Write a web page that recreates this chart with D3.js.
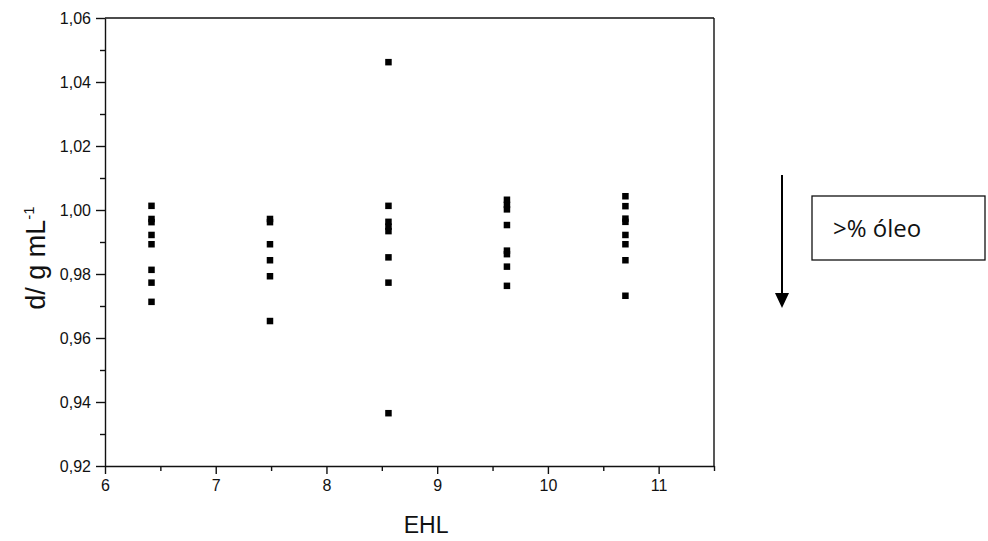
<!DOCTYPE html>
<html lang="pt">
<head>
<meta charset="UTF-8">
<title>d vs EHL</title>
<script src="https://d3js.org/d3.v7.min.js"></script>
<style>
  body { margin: 0; background: #fff; }
  svg text { font-family: "Liberation Sans", Arial, sans-serif; fill: #111; }
</style>
</head>
<body>
<div id="chart"></div>
<script>
// EHL groups (x) and measured densities (y) for each group
const ehl = [6.42, 7.49, 8.56, 9.63, 10.70];
const dens_642 = [1.0013, 0.9972, 0.9962, 0.9922, 0.9893, 0.9813, 0.9773, 0.9713];
const dens_749 = [0.9972, 0.9962, 0.9893, 0.9843, 0.9793, 0.9653];
const dens_856 = [1.0462, 1.0013, 0.9963, 0.9948, 0.9934, 0.9852, 0.9773, 0.9365];
const dens_963 = [1.0032, 1.0016, 1.0002, 0.9953, 0.9873, 0.9862, 0.9823, 0.9763];
const dens_1070 = [1.0043, 1.0012, 0.9973, 0.9963, 0.9922, 0.9893, 0.9843, 0.9732];
const xTicks = [6, 7, 8, 9, 10, 11];
const yTicks = [0.92, 0.94, 0.96, 0.98, 1.00, 1.02, 1.04, 1.06];

const groups = [dens_642, dens_749, dens_856, dens_963, dens_1070];
const points = [];
groups.forEach((arr, i) => arr.forEach(v => points.push({ x: ehl[i], y: v })));

const W = 988, H = 541;
const margin = { left: 105, top: 18, right: 274, bottom: 75 };
const width = W - margin.left - margin.right;
const height = H - margin.top - margin.bottom;

const svg = d3.select("#chart").append("svg")
    .attr("width", W).attr("height", H);

const g = svg.append("g").attr("transform", `translate(${margin.left},${margin.top})`);

const x = d3.scaleLinear().domain([6, 11.5]).range([0, width]);
const y = d3.scaleLinear().domain([0.92, 1.06]).range([height, 0]);

const fmt = d3.format(".2f");
const comma = v => fmt(v).replace(".", ",");

// minor ticks first, majors on top
g.append("g")
    .attr("transform", `translate(0,${height})`)
    .call(d3.axisBottom(x).tickValues(d3.range(6.5, 11.6, 1)).tickSize(5).tickFormat(""))
    .call(a => a.select(".domain").remove());
g.append("g")
    .call(d3.axisLeft(y).tickValues(d3.range(0.93, 1.06, 0.02)).tickSize(5).tickFormat(""))
    .call(a => a.select(".domain").remove());

const xAxis = g.append("g")
    .attr("transform", `translate(0,${height})`)
    .call(d3.axisBottom(x).tickValues(xTicks).tickFormat(d3.format("d"))
        .tickSize(8).tickPadding(6).tickSizeOuter(0));
const yAxis = g.append("g")
    .call(d3.axisLeft(y).tickValues(yTicks).tickSize(9).tickPadding(5).tickFormat(comma).tickSizeOuter(0));

g.selectAll(".tick line, .domain").attr("stroke", "#111").attr("stroke-width", 1.4);
xAxis.selectAll("text").style("font-size", "16px");
yAxis.selectAll("text").style("font-size", "16px");

// top and right frame
g.append("line").attr("x1", 0).attr("x2", width).attr("y1", 0).attr("y2", 0)
    .attr("stroke", "#111").attr("stroke-width", 1.4);
g.append("line").attr("x1", width).attr("x2", width).attr("y1", 0).attr("y2", height)
    .attr("stroke", "#111").attr("stroke-width", 1.4);

// markers
const s = 6.5;
g.append("g").selectAll("rect")
    .data(points)
    .join("rect")
    .attr("x", d => x(d.x) - s / 2)
    .attr("y", d => y(d.y) - s / 2)
    .attr("width", s).attr("height", s)
    .attr("fill", "#000");

// axis titles
svg.append("text")
    .attr("x", margin.left + x(8.9)).attr("y", 533)
    .attr("text-anchor", "middle")
    .style("font-size", "23px")
    .text("EHL");

const yl = svg.append("text")
    .attr("transform", `translate(45,${margin.top + y(0.985)}) rotate(-90)`)
    .attr("text-anchor", "middle")
    .style("font-size", "27px");
yl.append("tspan").text("d/ g mL");
yl.append("tspan").attr("dy", -11).style("font-size", "15px").text("-1");

// annotation: arrow and box
const ann = svg.append("g");
ann.append("line")
    .attr("x1", 782).attr("x2", 782).attr("y1", 175).attr("y2", 294)
    .attr("stroke", "#000").attr("stroke-width", 2);
ann.append("path")
    .attr("d", "M775,293 L789,293 L782,308 Z")
    .attr("fill", "#000");
ann.append("rect")
    .attr("x", 812).attr("y", 196).attr("width", 173).attr("height", 64)
    .attr("fill", "none").attr("stroke", "#111").attr("stroke-width", 1.3);
ann.append("text")
    .attr("x", 833).attr("y", 237)
    .style("font-family", "'Open Sans', 'Noto Sans', sans-serif")
    .style("font-size", "24px")
    .text(">% óleo");
</script>
</body>
</html>
